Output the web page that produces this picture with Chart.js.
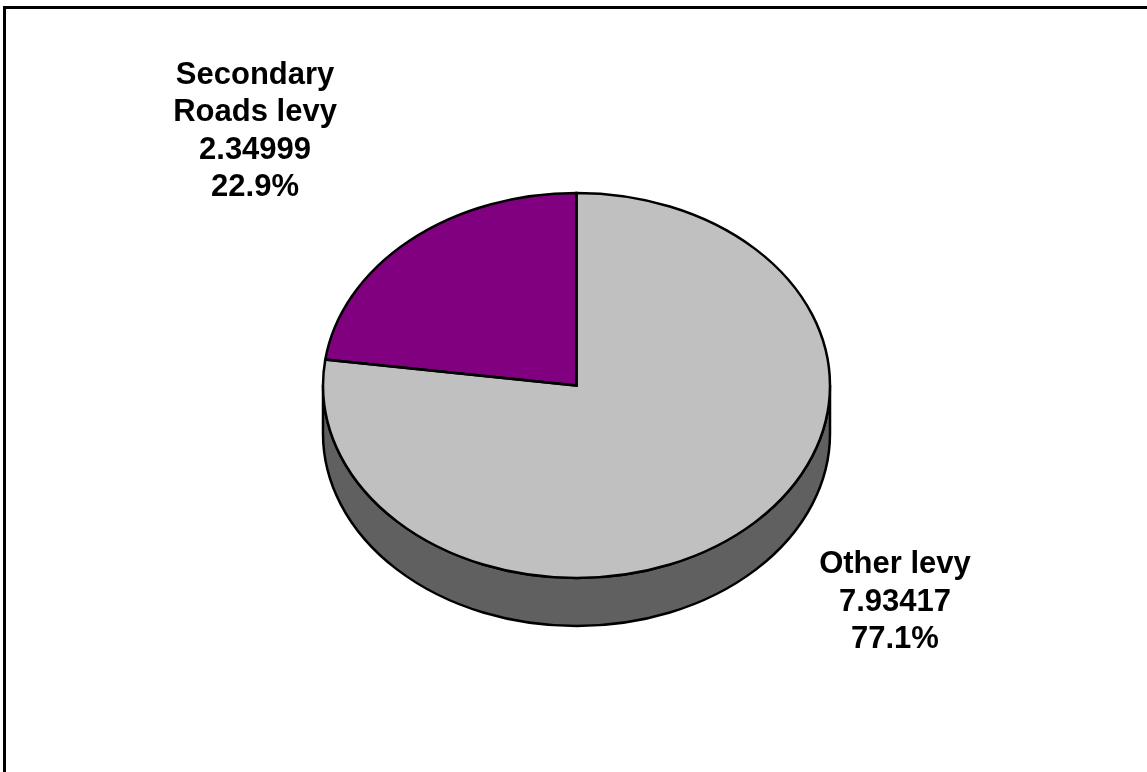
<!DOCTYPE html>
<html>
<head>
<meta charset="utf-8">
<script src="https://cdn.jsdelivr.net/npm/chart.js@4/dist/chart.umd.min.js"></script>
<style>
  html, body { margin: 0; padding: 0; background: #fff; overflow: hidden; }
  canvas { display: block; }
</style>
</head>
<body>
<canvas id="levyChart" width="1147" height="772"></canvas>
<script>
// Levy breakdown
const categories = ['Other levy', ['Secondary', 'Roads levy']];
const levyValues = [7.93417, 2.34999];
const valueLabels = ['7.93417', '2.34999'];

// Styling
const faceColors = ['#C0C0C0', '#800080'];
const wallColors = ['#606060', '#400040'];
const TILT = 0.7594;      // vertical squash of the pie disc
const DEPTH = 48;         // thickness of the disc in px
const OUTLINE = 2.5;
const LABEL_FONT = 'bold 31px "Liberation Sans", Arial, sans-serif';
const LINE_HEIGHT = 37.5;
// label block centre, relative to the outer rim point at each slice's mid angle
const labelShift = [[151.7, 69.5], [-154.7, -111.5]];

function ellipsePath(ctx, cx, cy, rx, ry, a0, a1, ccw) {
  ctx.ellipse(cx, cy, rx, ry, 0, a0, a1, !!ccw);
}

const pie3d = {
  id: 'pie3d',
  beforeDraw(chart) {
    const ctx = chart.ctx;
    ctx.save();
    ctx.fillStyle = '#000';
    ctx.fillRect(3, 6, 3, chart.height - 6);
    ctx.fillRect(3, 6, chart.width - 3, 3);
    ctx.restore();
  },
  beforeDatasetsDraw(chart) {
    const ctx = chart.ctx;
    const arcs = chart.getDatasetMeta(0).data;
    const { x, y, outerRadius: r } = arcs[0];
    const ry = r * TILT;
    const TWO_PI = Math.PI * 2;

    // front walls of the disc (only the lower half faces the viewer)
    arcs.forEach((arc, i) => {
      for (let k = -1; k <= 1; k++) {
        const lo = Math.max(arc.startAngle, k * TWO_PI);
        const hi = Math.min(arc.endAngle, k * TWO_PI + Math.PI);
        if (hi <= lo) continue;
        ctx.save();
        ctx.beginPath();
        ellipsePath(ctx, x, y, r, ry, lo, hi, false);
        ellipsePath(ctx, x, y + DEPTH, r, ry, hi, lo, true);
        ctx.closePath();
        ctx.fillStyle = wallColors[i];
        ctx.fill();
        ctx.lineWidth = OUTLINE;
        ctx.strokeStyle = '#000';
        ctx.lineJoin = 'round';
        ctx.stroke();
        ctx.restore();
      }
    });

    // squash the top face into an ellipse
    ctx.save();
    ctx.translate(x, y);
    ctx.scale(1, TILT);
    ctx.translate(-x, -y);
  },
  afterDatasetsDraw(chart) {
    const ctx = chart.ctx;
    ctx.restore();
    const arcs = chart.getDatasetMeta(0).data;
    const { x, y, outerRadius: r } = arcs[0];
    const ry = r * TILT;

    // slice outlines with an even stroke width
    ctx.save();
    ctx.lineWidth = OUTLINE;
    ctx.strokeStyle = '#000';
    ctx.lineJoin = 'miter';
    arcs.forEach(arc => {
      ctx.beginPath();
      ctx.moveTo(x, y);
      ellipsePath(ctx, x, y, r, ry, arc.startAngle, arc.endAngle, false);
      ctx.closePath();
      ctx.stroke();
    });
    ctx.restore();
  },
  afterDraw(chart) {
    const ctx = chart.ctx;
    const arcs = chart.getDatasetMeta(0).data;
    const data = chart.data.datasets[0].data;
    const total = data.reduce((s, v) => s + v, 0);
    ctx.save();
    ctx.font = LABEL_FONT;
    ctx.fillStyle = '#000';
    ctx.textAlign = 'center';
    ctx.textBaseline = 'alphabetic';
    arcs.forEach((arc, i) => {
      const mid = (arc.startAngle + arc.endAngle) / 2;
      const rimX = arc.x + arc.outerRadius * Math.cos(mid);
      const rimY = arc.y + arc.outerRadius * TILT * Math.sin(mid);
      const cx = rimX + labelShift[i][0];
      const cy = rimY + labelShift[i][1];
      const name = chart.data.labels[i];
      const lines = (Array.isArray(name) ? name : [name]).concat([
        valueLabels[i],
        (data[i] / total * 100).toFixed(1) + '%'
      ]);
      const n = lines.length;
      lines.forEach((t, j) => {
        ctx.fillText(t, cx, cy + (j - (n - 1) / 2) * LINE_HEIGHT + 11);
      });
    });
    ctx.restore();
  }
};

new Chart(document.getElementById('levyChart'), {
  type: 'pie',
  data: {
    labels: categories,
    datasets: [{
      data: levyValues,
      backgroundColor: faceColors,
      borderWidth: 0
    }]
  },
  options: {
    responsive: false,
    animation: false,
    events: [],
    radius: 253.5,
    rotation: 0,
    layout: { padding: { left: 6, right: 0, top: 0, bottom: 1 } },
    plugins: {
      legend: { display: false },
      tooltip: { enabled: false }
    }
  },
  plugins: [pie3d]
});
</script>
</body>
</html>
